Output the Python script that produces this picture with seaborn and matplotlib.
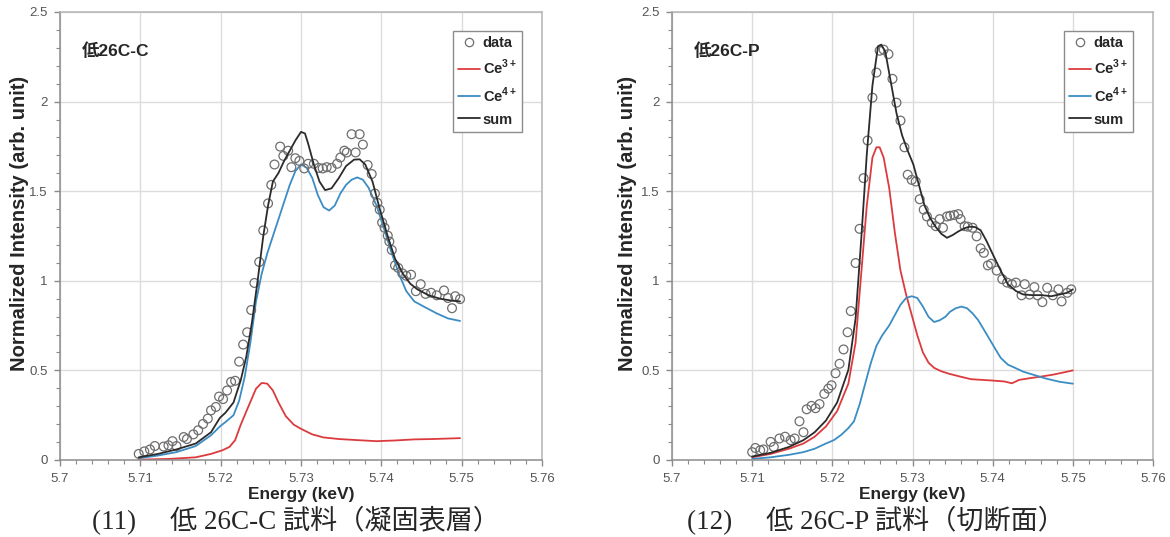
import numpy as np
import pandas as pd
import matplotlib
matplotlib.use("Agg")
import matplotlib.pyplot as plt
from matplotlib.ticker import MultipleLocator, FuncFormatter
from matplotlib.lines import Line2D
import seaborn as sns

# ---------------- Sample 26C-C (solidified surface layer) ----------------
c_data_e = [5.7098, 5.7105, 5.7112, 5.7118, 5.7129, 5.7135, 5.7140, 5.7145, 5.7154, 5.7158,
            5.7166, 5.7172, 5.7178, 5.7184, 5.7188, 5.7194, 5.7198, 5.7203, 5.7208, 5.7213,
            5.7218, 5.7223, 5.7228, 5.7233, 5.7238, 5.7242, 5.7248, 5.7253, 5.7259, 5.7263,
            5.7267, 5.7274, 5.7278, 5.7284, 5.7288, 5.7293, 5.7298, 5.7304, 5.7309, 5.7316,
            5.7322, 5.7327, 5.7332, 5.7338, 5.7345, 5.7349, 5.7354, 5.7357, 5.7363, 5.7368,
            5.7373, 5.7377, 5.7383, 5.7388, 5.7392, 5.7395, 5.7398, 5.7401, 5.7404, 5.7408,
            5.7410, 5.7413, 5.7417, 5.7421, 5.7426, 5.7431, 5.7437, 5.7443, 5.7449, 5.7455,
            5.7462, 5.7469, 5.7478, 5.7483, 5.7488, 5.7492, 5.7498]
c_data_i = [0.034, 0.048, 0.059, 0.078, 0.075, 0.082, 0.105, 0.078, 0.128, 0.117,
            0.143, 0.166, 0.201, 0.231, 0.277, 0.296, 0.354, 0.340, 0.388, 0.436,
            0.442, 0.549, 0.644, 0.713, 0.837, 0.988, 1.105, 1.281, 1.432, 1.535,
            1.649, 1.749, 1.697, 1.726, 1.634, 1.684, 1.669, 1.627, 1.653, 1.653,
            1.630, 1.627, 1.634, 1.630, 1.653, 1.688, 1.726, 1.716, 1.818, 1.716,
            1.818, 1.760, 1.646, 1.596, 1.487, 1.435, 1.397, 1.325, 1.296, 1.252,
            1.219, 1.172, 1.086, 1.072, 1.042, 1.028, 1.034, 0.942, 0.981, 0.927,
            0.933, 0.919, 0.946, 0.904, 0.847, 0.914, 0.898]

c_sum_e = [5.7098, 5.7122, 5.7145, 5.7169, 5.7188, 5.7199, 5.7206, 5.7216, 5.7225, 5.7232,
           5.7239, 5.7246, 5.7253, 5.7259, 5.7265, 5.7272, 5.7279, 5.7286, 5.7293, 5.7300,
           5.7305, 5.7309, 5.7316, 5.7323, 5.7330, 5.7338, 5.7347, 5.7356, 5.7366, 5.7373,
           5.7380, 5.7389, 5.7398, 5.7408, 5.7417, 5.7427, 5.7436, 5.7445, 5.7459, 5.7473,
           5.7488, 5.7498]
c_sum_i = [0.015, 0.034, 0.059, 0.092, 0.155, 0.235, 0.264, 0.321, 0.445, 0.579,
           0.770, 1.000, 1.248, 1.420, 1.554, 1.602, 1.669, 1.726, 1.783, 1.831,
           1.822, 1.764, 1.649, 1.554, 1.506, 1.516, 1.573, 1.640, 1.676, 1.678,
           1.649, 1.554, 1.401, 1.248, 1.124, 1.038, 0.984, 0.952, 0.919, 0.900,
           0.889, 0.885]

c_ce4_e = [5.7098, 5.7122, 5.7145, 5.7169, 5.7188, 5.7199, 5.7206, 5.7216, 5.7223, 5.7230,
           5.7237, 5.7244, 5.7251, 5.7258, 5.7265, 5.7272, 5.7279, 5.7286, 5.7293, 5.7300,
           5.7307, 5.7314, 5.7321, 5.7328, 5.7335, 5.7342, 5.7349, 5.7356, 5.7363, 5.7370,
           5.7377, 5.7384, 5.7394, 5.7403, 5.7413, 5.7422, 5.7431, 5.7441, 5.7455, 5.7469,
           5.7483, 5.7498]
c_ce4_i = [0.010, 0.025, 0.044, 0.078, 0.138, 0.187, 0.212, 0.250, 0.331, 0.465,
           0.656, 0.885, 1.038, 1.153, 1.249, 1.344, 1.440, 1.535, 1.612, 1.650,
           1.631, 1.574, 1.478, 1.411, 1.392, 1.420, 1.487, 1.535, 1.564, 1.577,
           1.564, 1.520, 1.420, 1.296, 1.153, 1.038, 0.943, 0.885, 0.851, 0.818,
           0.790, 0.776]

c_ce3_e = [5.7098, 5.7136, 5.7169, 5.7188, 5.7202, 5.7211, 5.7218, 5.7225, 5.7234, 5.7244,
           5.7251, 5.7258, 5.7265, 5.7272, 5.7281, 5.7291, 5.7300, 5.7314, 5.7328, 5.7347,
           5.7370, 5.7394, 5.7417, 5.7441, 5.7464, 5.7498]
c_ce3_i = [0.002, 0.006, 0.015, 0.034, 0.054, 0.073, 0.111, 0.197, 0.293, 0.398,
           0.430, 0.426, 0.388, 0.321, 0.245, 0.197, 0.174, 0.143, 0.126, 0.117,
           0.111, 0.105, 0.109, 0.115, 0.117, 0.122]

# ---------------- Sample 26C-P (cut cross-section) ----------------
p_data_e = [5.7100, 5.7104, 5.7110, 5.7114, 5.7123, 5.7127, 5.7134, 5.7141, 5.7148, 5.7153,
            5.7159, 5.7164, 5.7168, 5.7174, 5.7179, 5.7184, 5.7190, 5.7195, 5.7199, 5.7204,
            5.7209, 5.7214, 5.7219, 5.7223, 5.7229, 5.7234, 5.7239, 5.7244, 5.7250, 5.7255,
            5.7259, 5.7264, 5.7270, 5.7275, 5.7280, 5.7285, 5.7290, 5.7294, 5.7299, 5.7304,
            5.7309, 5.7314, 5.7318, 5.7324, 5.7329, 5.7334, 5.7338, 5.7343, 5.7347, 5.7352,
            5.7357, 5.7360, 5.7365, 5.7369, 5.7375, 5.7380, 5.7385, 5.7389, 5.7394, 5.7398,
            5.7405, 5.7412, 5.7418, 5.7424, 5.7429, 5.7436, 5.7440, 5.7446, 5.7452, 5.7456,
            5.7462, 5.7468, 5.7475, 5.7482, 5.7486, 5.7493, 5.7498]
p_data_i = [0.044, 0.067, 0.054, 0.059, 0.101, 0.073, 0.120, 0.130, 0.111, 0.120,
            0.216, 0.155, 0.283, 0.302, 0.289, 0.312, 0.369, 0.398, 0.417, 0.484,
            0.537, 0.617, 0.713, 0.831, 1.099, 1.290, 1.573, 1.783, 2.022, 2.162,
            2.284, 2.290, 2.265, 2.127, 1.994, 1.894, 1.745, 1.592, 1.563, 1.554,
            1.455, 1.397, 1.359, 1.325, 1.305, 1.344, 1.296, 1.359, 1.363, 1.367,
            1.372, 1.344, 1.305, 1.302, 1.296, 1.248, 1.181, 1.156, 1.086, 1.095,
            1.057, 1.009, 0.990, 0.981, 0.990, 0.919, 0.981, 0.923, 0.965, 0.919,
            0.881, 0.961, 0.919, 0.952, 0.885, 0.933, 0.952]

p_sum_e = [5.7100, 5.7123, 5.7146, 5.7164, 5.7178, 5.7192, 5.7206, 5.7220, 5.7229, 5.7236,
           5.7243, 5.7250, 5.7257, 5.7261, 5.7266, 5.7273, 5.7280, 5.7287, 5.7294, 5.7301,
           5.7308, 5.7315, 5.7322, 5.7329, 5.7336, 5.7343, 5.7350, 5.7357, 5.7364, 5.7371,
           5.7378, 5.7385, 5.7392, 5.7401, 5.7410, 5.7419, 5.7429, 5.7438, 5.7449, 5.7461,
           5.7473, 5.7484, 5.7493, 5.7500]
p_sum_i = [0.019, 0.040, 0.073, 0.111, 0.155, 0.220, 0.321, 0.503, 0.790, 1.229,
           1.707, 2.089, 2.309, 2.318, 2.280, 2.108, 1.936, 1.812, 1.726, 1.650,
           1.535, 1.420, 1.350, 1.300, 1.262, 1.240, 1.255, 1.275, 1.292, 1.302,
           1.300, 1.282, 1.225, 1.140, 1.057, 0.981, 0.943, 0.924, 0.920, 0.920,
           0.914, 0.924, 0.933, 0.952]

p_ce3_e = [5.7100, 5.7123, 5.7146, 5.7164, 5.7178, 5.7192, 5.7206, 5.7220, 5.7229, 5.7236,
           5.7243, 5.7250, 5.7255, 5.7259, 5.7264, 5.7271, 5.7278, 5.7285, 5.7292, 5.7299,
           5.7306, 5.7313, 5.7320, 5.7327, 5.7336, 5.7345, 5.7359, 5.7373, 5.7387, 5.7401,
           5.7415, 5.7424, 5.7433, 5.7447, 5.7461, 5.7475, 5.7489, 5.7500]
p_ce3_i = [0.015, 0.034, 0.063, 0.092, 0.130, 0.187, 0.273, 0.426, 0.655, 1.038,
           1.420, 1.688, 1.745, 1.745, 1.688, 1.516, 1.268, 1.057, 0.924, 0.810,
           0.696, 0.600, 0.543, 0.514, 0.495, 0.482, 0.466, 0.451, 0.447, 0.443,
           0.438, 0.428, 0.447, 0.457, 0.466, 0.476, 0.489, 0.500]

p_ce4_e = [5.7100, 5.7123, 5.7146, 5.7164, 5.7178, 5.7192, 5.7202, 5.7211, 5.7220, 5.7227,
           5.7234, 5.7241, 5.7248, 5.7255, 5.7262, 5.7271, 5.7278, 5.7285, 5.7292, 5.7299,
           5.7306, 5.7313, 5.7320, 5.7327, 5.7334, 5.7341, 5.7347, 5.7354, 5.7361, 5.7368,
           5.7375, 5.7382, 5.7391, 5.7401, 5.7410, 5.7419, 5.7429, 5.7438, 5.7452, 5.7466,
           5.7484, 5.7500]
p_ce4_i = [0.006, 0.015, 0.029, 0.044, 0.063, 0.092, 0.111, 0.140, 0.178, 0.216,
           0.310, 0.426, 0.541, 0.637, 0.694, 0.751, 0.809, 0.866, 0.904, 0.914,
           0.904, 0.856, 0.799, 0.770, 0.780, 0.799, 0.828, 0.847, 0.856, 0.847,
           0.818, 0.780, 0.713, 0.637, 0.570, 0.532, 0.512, 0.493, 0.474, 0.455,
           0.436, 0.426]

panel_titles = ["低26C-C", "低26C-P"]
captions = ["(11)\u3000 低 26C-C 試料（凝固表層）", "(12)\u3000 低 26C-P 試料（切断面）"]
legend_labels = ["data", r"Ce$^{\mathbf{3+}}$", r"Ce$^{\mathbf{4+}}$", "sum"]
x_label = "Energy (keV)"
y_label = "Normalized Intensity (arb. unit)"

RED = "#dc3b3e"
BLUE = "#3b8dc4"
BLACK = "#2b2b2b"
CIRCLE = "#6e6e6e"

sns.set_style("white")
plt.rcParams["font.family"] = ["Liberation Sans", "Noto Sans CJK JP", "DejaVu Sans"]
plt.rcParams["mathtext.fontset"] = "custom"
plt.rcParams["mathtext.rm"] = "Liberation Sans:bold"
plt.rcParams["mathtext.bf"] = "Liberation Sans:bold"

fig = plt.figure(figsize=(11.7, 5.37), dpi=100)
ax_c = fig.add_axes([60 / 1170, 1 - 460 / 537, 482 / 1170, 448 / 537])
ax_p = fig.add_axes([672 / 1170, 1 - 460 / 537, 481 / 1170, 448 / 537])


def draw_panel(ax, de, di, e3, i3, e4, i4, es, is_, title, ylabel_x):
    dots = pd.DataFrame({"E": de, "I": di})
    ce3 = pd.DataFrame({"E": e3, "I": i3})
    ce4 = pd.DataFrame({"E": e4, "I": i4})
    tot = pd.DataFrame({"E": es, "I": is_})

    sns.lineplot(data=ce3, x="E", y="I", ax=ax, color=RED, lw=1.3, estimator=None, sort=False)
    sns.lineplot(data=ce4, x="E", y="I", ax=ax, color=BLUE, lw=1.3, estimator=None, sort=False)
    sns.scatterplot(data=dots, x="E", y="I", ax=ax, s=40, marker="o",
                    facecolor="none", edgecolor=CIRCLE, linewidth=0.9, zorder=3)
    sns.lineplot(data=tot, x="E", y="I", ax=ax, color=BLACK, lw=1.3, estimator=None, sort=False,
                 zorder=4)

    ax.set_xlim(5.70, 5.76)
    ax.set_ylim(0, 2.5)
    ax.xaxis.set_major_locator(MultipleLocator(0.01))
    ax.xaxis.set_minor_locator(MultipleLocator(0.002))
    ax.yaxis.set_major_locator(MultipleLocator(0.5))
    ax.yaxis.set_minor_locator(MultipleLocator(0.1))
    ax.xaxis.set_major_formatter(FuncFormatter(lambda v, p: f"{round(v, 3):g}"))
    ax.yaxis.set_major_formatter(FuncFormatter(lambda v, p: f"{round(v, 2):g}"))
    ax.grid(True, which="major", color="#dcdcdc", lw=1.0)
    ax.set_axisbelow(True)
    ax.tick_params(axis="both", which="major", direction="out", length=4, width=1,
                   color="#8a8a8a", labelcolor="#555555", labelsize=9.5, pad=5)
    ax.tick_params(axis="both", which="minor", direction="out", length=3, width=0.8,
                   color="#8a8a8a")
    ax.tick_params(axis="x", which="both", bottom=True)
    ax.tick_params(axis="y", which="both", left=True)
    for side, sp in ax.spines.items():
        sp.set_visible(True)
        sp.set_linewidth(1.1)
        sp.set_color("#8c8c8c" if side in ("left", "bottom") else "#b4b4b4")

    ax.set_xlabel(x_label, fontsize=12.5, fontweight="bold", labelpad=2)
    ax.set_ylabel(y_label, fontsize=14.5, fontweight="bold", labelpad=2)
    ax.yaxis.set_label_coords(ylabel_x, 0.527)
    ax.text(0.046, 0.913, title, transform=ax.transAxes, fontsize=12.5,
            fontweight="bold", va="center", ha="left")

    handles = [
        Line2D([], [], ls="none", marker="o", markerfacecolor="none",
               markeredgecolor=CIRCLE, markersize=6, markeredgewidth=0.9),
        Line2D([], [], color=RED, lw=1.3),
        Line2D([], [], color=BLUE, lw=1.3),
        Line2D([], [], color=BLACK, lw=1.3),
    ]
    leg = ax.legend(handles, legend_labels, loc="upper right",
                    bbox_to_anchor=(0.958, 0.958), frameon=True, fancybox=False,
                    edgecolor="#8c8c8c", framealpha=1, handlelength=1.5,
                    handletextpad=0.2, borderpad=0.35, labelspacing=0.55,
                    borderaxespad=0, prop={"weight": "bold", "size": 10.5})
    leg.get_frame().set_linewidth(1.0)


draw_panel(ax_c, c_data_e, c_data_i, c_ce3_e, c_ce3_i, c_ce4_e, c_ce4_i,
           c_sum_e, c_sum_i, panel_titles[0], -0.064)
draw_panel(ax_p, p_data_e, p_data_i, p_ce3_e, p_ce3_i, p_ce4_e, p_ce4_i,
           p_sum_e, p_sum_i, panel_titles[1], -0.073)

cap_family = ["Liberation Serif", "Noto Sans CJK JP"]
fig.text(92 / 1170, 1 - 521 / 537, captions[0], family=cap_family, fontsize=19.5,
         ha="left", va="center")
fig.text(687 / 1170, 1 - 521 / 537, captions[1], family=cap_family, fontsize=19.5,
         ha="left", va="center")

fig.savefig("out.png", dpi=100, facecolor="white")
